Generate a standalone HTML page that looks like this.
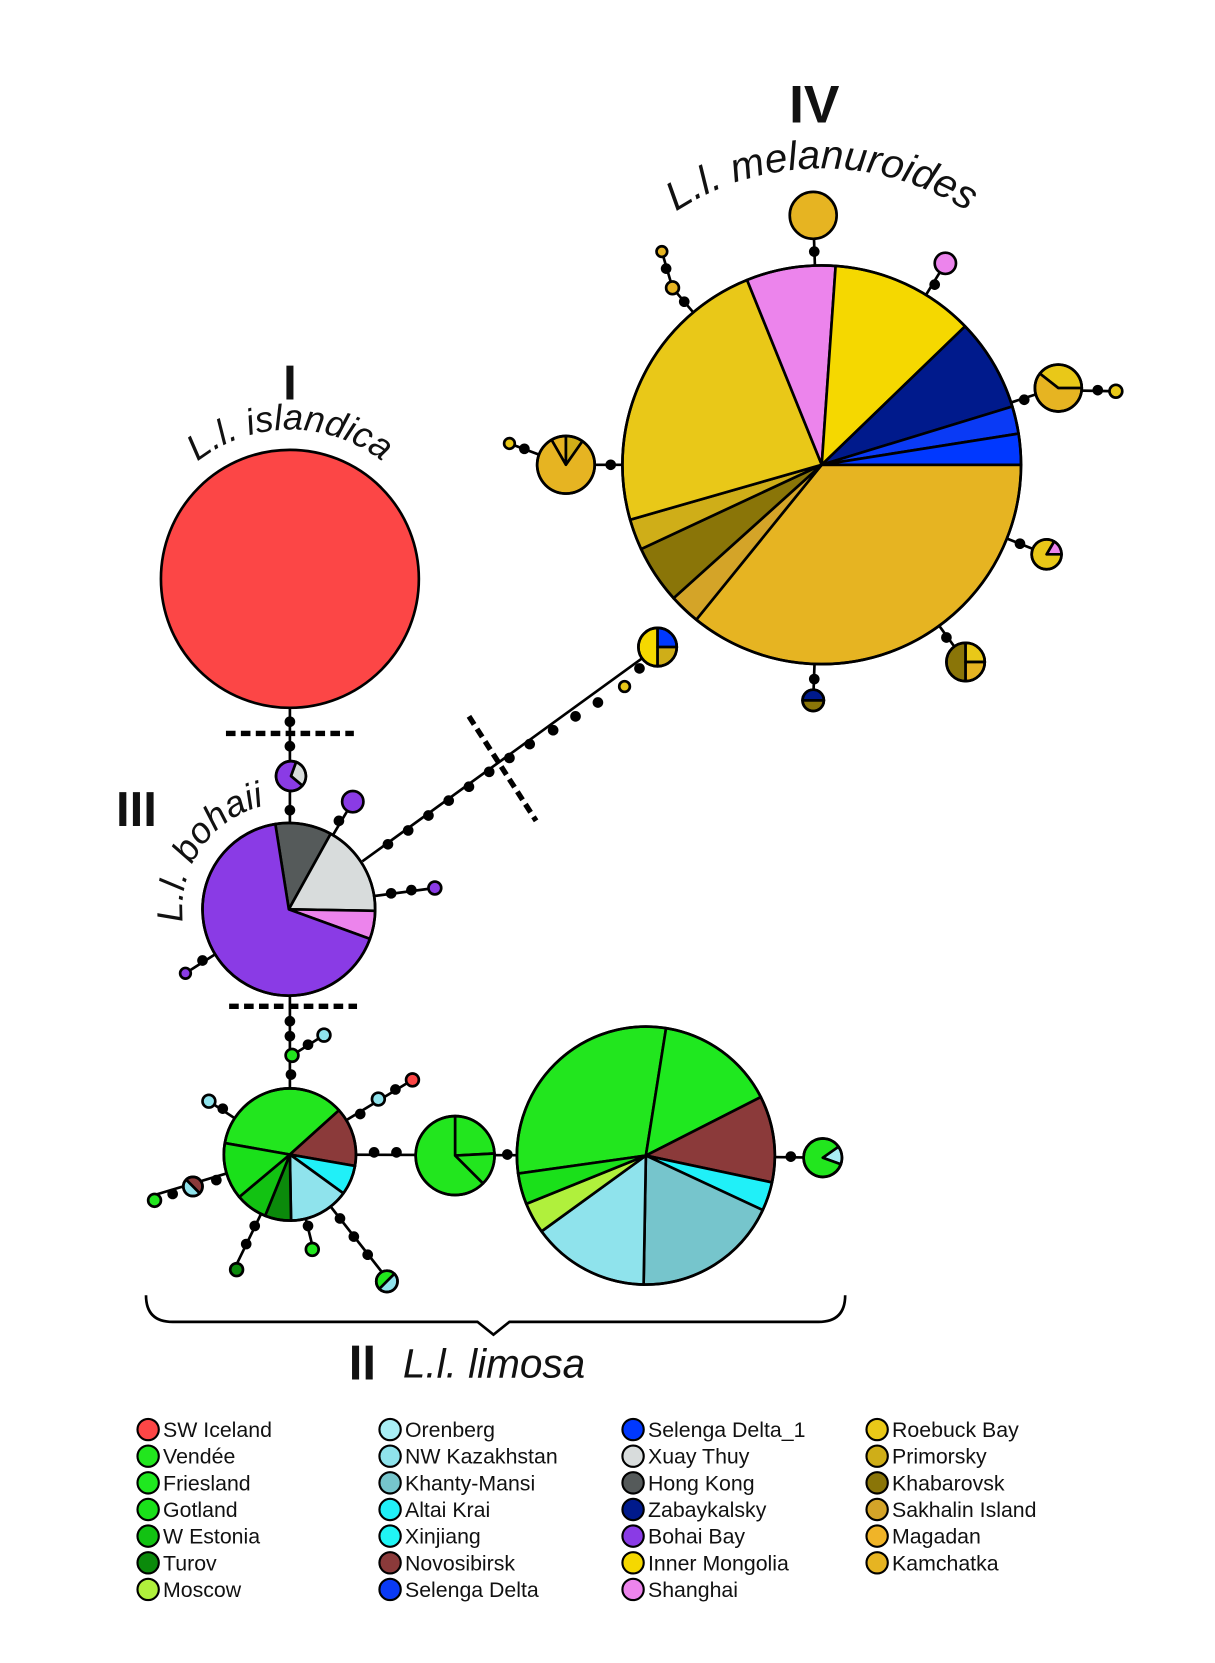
<!DOCTYPE html>
<html><head><meta charset="utf-8"><style>
html,body{margin:0;padding:0;background:#fff;}
svg{display:block;}
.lg{font-family:"Liberation Sans",sans-serif;font-size:20px;fill:#111;}
.it{font-family:"Liberation Sans",sans-serif;font-style:italic;fill:#111;}
.bd{font-family:"Liberation Sans",sans-serif;font-weight:bold;fill:#111;}
</style></head><body>
<svg id="s" width="1215" height="1663" viewBox="0 0 1140 1560" preserveAspectRatio="none" xmlns="http://www.w3.org/2000/svg">
<defs>
<path id="arcI" d="M132,543 A140,140 0 0 1 412,543"/>
<path id="arcM" d="M520,436 A251,251 0 0 1 1022,436" transform="translate(0,-27)"/>
<path id="arcB" d="M184.4,903 A100,100 0 0 1 288.4,754.5"/>
</defs>
<g id="lines" stroke="#000" stroke-width="2.5" fill="none">
<line x1="272" y1="664" x2="272" y2="853"/>
<line x1="272" y1="930" x2="272" y2="1083"/>
<line x1="274" y1="990" x2="304" y2="971"/>
<line x1="340" y1="808" x2="617" y2="607"/>
<line x1="271" y1="853" x2="331" y2="752"/>
<line x1="340" y1="842" x2="408" y2="833"/>
<line x1="210" y1="890" x2="174" y2="913"/>
<line x1="272" y1="1083" x2="196" y2="1033"/>
<line x1="272" y1="1083" x2="387" y2="1013"/>
<line x1="272" y1="1083" x2="606" y2="1084"/>
<line x1="606" y1="1084" x2="772" y2="1086"/>
<line x1="272" y1="1083" x2="145" y2="1121"/>
<line x1="272" y1="1083" x2="222" y2="1186"/>
<line x1="272" y1="1083" x2="293" y2="1168"/>
<line x1="272" y1="1083" x2="362" y2="1198"/>
<line x1="771" y1="436" x2="763" y2="202"/>
<line x1="771" y1="436" x2="887" y2="247"/>
<line x1="771" y1="436" x2="642" y2="283"/>
<line x1="642" y1="283" x2="631" y2="270"/>
<line x1="631" y1="270" x2="621" y2="236"/>
<line x1="771" y1="436" x2="993" y2="363"/>
<line x1="993" y1="366" x2="1047" y2="367"/>
<line x1="771" y1="436" x2="531" y2="436"/>
<line x1="531" y1="436" x2="478" y2="416"/>
<line x1="771" y1="436" x2="982" y2="520"/>
<line x1="771" y1="436" x2="906" y2="621"/>
<line x1="771" y1="436" x2="763" y2="657"/>
</g>
<g id="pies"></g>
<g id="dots" fill="#000"></g>
<g stroke="#000" stroke-width="5" stroke-dasharray="9 5" fill="none">
<line x1="212" y1="688" x2="332" y2="688"/>
<line x1="215" y1="944" x2="335" y2="944"/>
<line x1="440" y1="672" x2="503" y2="770"/>
</g>
<path d="M137,1215 Q137,1240 162,1240 L448,1240 L463,1252 L478,1240 L768,1240 Q793,1240 793,1215" stroke="#000" stroke-width="2.5" fill="none"/>
<text class="bd" x="272" y="375" font-size="46" text-anchor="middle">I</text>
<text class="bd" x="764" y="115" font-size="50" text-anchor="middle">IV</text>
<text class="bd" x="128" y="775" font-size="46" text-anchor="middle">III</text>
<text class="bd" x="340" y="1294" font-size="46" text-anchor="middle">II</text>
<text class="it" x="378" y="1292" font-size="38">L.l. limosa</text>
<text class="it" font-size="34"><textPath href="#arcI" startOffset="50%" text-anchor="middle">L.l. islandica</textPath></text>
<text class="it" font-size="38"><textPath href="#arcM" startOffset="50%" text-anchor="middle">L.l. melanuroides</textPath></text>
<text class="it" font-size="34"><textPath href="#arcB" startOffset="50%" text-anchor="middle">L.l. bohaii</textPath></text>
<g id="legend"></g>
</svg>
<script>
var NS="http://www.w3.org/2000/svg";
var P=document.getElementById("pies"),D=document.getElementById("dots"),L=document.getElementById("legend");
function el(t,a,p){var e=document.createElementNS(NS,t);for(var k in a)e.setAttribute(k,a[k]);p.appendChild(e);return e;}
function pt(cx,cy,r,a){a=a*Math.PI/180;return [cx+r*Math.cos(a),cy+r*Math.sin(a)];}
function pie(cx,cy,r,sl){
 if(!sl||sl.length==1){el("circle",{cx:cx,cy:cy,r:r,fill:sl?sl[0][2]:"#fff",stroke:"#000","stroke-width":2.5},P);return;}
 sl.forEach(function(s){var a=pt(cx,cy,r,s[0]),b=pt(cx,cy,r,s[1]);var lg=(s[1]-s[0])>180?1:0;
  el("path",{d:"M"+cx+","+cy+" L"+a[0]+","+a[1]+" A"+r+","+r+" 0 "+lg+" 1 "+b[0]+","+b[1]+" Z",fill:s[2],stroke:"#000","stroke-width":2.5,"stroke-linejoin":"round"},P);});
 el("circle",{cx:cx,cy:cy,r:r,fill:"none",stroke:"#000","stroke-width":2.5},P);
}
function c(cx,cy,r,col){pie(cx,cy,r,[[0,360,col]]);}
function dot(x,y){el("circle",{cx:x,cy:y,r:5},D);}
var C={ice:"#fc4646",ven:"#22e61e",fri:"#1fe81f",got:"#1ae01a",wes:"#12c212",tur:"#0b8a0b",mos:"#b0f03c",
ore:"#a8eef5",nwk:"#8fe3ec",kha:"#76c5cc",alt:"#20f0f8",xin:"#20f5f5",nov:"#8b3a3a",sel:"#0a3af5",
se1:"#0038ff",xua:"#d8dcdc",hk:"#555a5a",zab:"#001a8c",boh:"#8a3be5",inm:"#f5d800",sha:"#ec84ec",
roe:"#e9c818",pri:"#cfae18",khb:"#8a7508",sak:"#d4a428",mag:"#f0b428",kam:"#e6b422"};
c(272,543,121,C.ice);
pie(271,853,81,[[-99,-61,C.hk],[-61,1,C.xua],[1,20,C.sha],[20,261,C.boh]]);
pie(273,728,14,[[-70,40,C.xua],[40,290,C.boh]]);
c(331,752,10,C.boh);c(408,833,6,C.boh);c(174,913,5,C.boh);
pie(272,1083,62,[[190,318,C.ven],[-42,10,C.nov],[10,36,C.alt],[36,89,C.nwk],[89,112,C.tur],[112,140,C.wes],[140,190,C.got]]);
c(274,990,6,C.ven);c(304,971,6,C.nwk);c(196,1033,6,C.nwk);c(355,1031,6,C.nwk);c(387,1013,6,C.ice);
pie(181,1113,9,[[-135,45,C.nov],[45,225,C.nwk]]);c(145,1126,6,C.ven);
c(222,1191,6,C.tur);c(293,1172,6,C.ven);
pie(363,1202,10,[[135,315,C.ven],[-45,135,C.nwk]]);
pie(427,1084,37,[[-90,-3,C.ven],[-3,45,C.ven],[45,270,C.ven]]);
pie(606,1084,121,[[172,279,C.ven],[-81,-27,C.fri],[-27,12,C.nov],[12,25,C.alt],[25,91,C.kha],[91,144,C.nwk],[144,158,C.mos],[158,172,C.got]]);
pie(772,1086,18,[[-35,20,C.ore],[20,325,C.ven]]);
pie(771,436,187,[[0,129,C.kam],[129,138,C.sak],[138,155,C.khb],[155,164,C.pri],[164,248,C.roe],[248,274,C.sha],[274,316,C.inm],[316,343,C.zab],[343,351,C.sel],[351,360,C.se1]]);
c(763,202,22,C.kam);c(887,247,10,C.sha);c(621,236,5,C.kam);c(631,270,6,C.kam);
pie(993,364,22,[[-142,0,C.roe],[0,218,C.kam]]);c(1047,367,6,C.roe);
pie(531,436,27,[[-120,-90,C.kam],[-90,-55,C.pri],[-55,240,C.kam]]);c(478,416,5,C.roe);
pie(982,520,14,[[-60,0,C.sha],[0,300,C.roe]]);
pie(906,621,18,[[90,270,C.khb],[-90,0,C.roe],[0,90,C.kam]]);
pie(763,657,10,[[180,360,C.zab],[0,180,C.khb]]);
pie(617,607,18,[[90,270,C.inm],[-90,0,C.se1],[0,90,C.pri]]);
c(586,644,5,C.roe);
[[272,677],[272,700],[272,760],[272,958],[272,972],[273,1008],[289,980],
[364,792],[383,779],[402,765],[421,751],[440,738],[459,724],[478,711],[497,698],[519,685],[540,672],[561,659],[600,627],
[318,770],[367,838],[386,835],[190,901],
[209,1040],[338,1045],[371,1022],[351,1081],[372,1081],[476,1083],[742,1085],[203,1107],[162,1120],
[239,1150],[231,1167],[289,1150],[319,1143],[332,1160],[345,1177],
[764,236],[877,267],[642,283],[625,252],[961,375],[1030,366],[573,436],[492,421],[957,510],[888,598],[764,637]
].forEach(function(p){dot(p[0],p[1]);});
var cols=[[["SW Iceland","ice"],["Vendée","ven"],["Friesland","fri"],["Gotland","got"],["W Estonia","wes"],["Turov","tur"],["Moscow","mos"]],
[["Orenberg","ore"],["NW Kazakhstan","nwk"],["Khanty-Mansi","kha"],["Altai Krai","alt"],["Xinjiang","xin"],["Novosibirsk","nov"],["Selenga Delta","sel"]],
[["Selenga Delta_1","se1"],["Xuay Thuy","xua"],["Hong Kong","hk"],["Zabaykalsky","zab"],["Bohai Bay","boh"],["Inner Mongolia","inm"],["Shanghai","sha"]],
[["Roebuck Bay","roe"],["Primorsky","pri"],["Khabarovsk","khb"],["Sakhalin Island","sak"],["Magadan","mag"],["Kamchatka","kam"]]];
var xs=[139,366,594,823];
cols.forEach(function(col,i){col.forEach(function(it,j){var y=1341+j*25;
 el("circle",{cx:xs[i],cy:y,r:10,fill:C[it[1]],stroke:"#000","stroke-width":2},L);
 var t=el("text",{x:xs[i]+14,y:y+7,"class":"lg"},L);t.textContent=it[0];});});
</script>
</body></html>
